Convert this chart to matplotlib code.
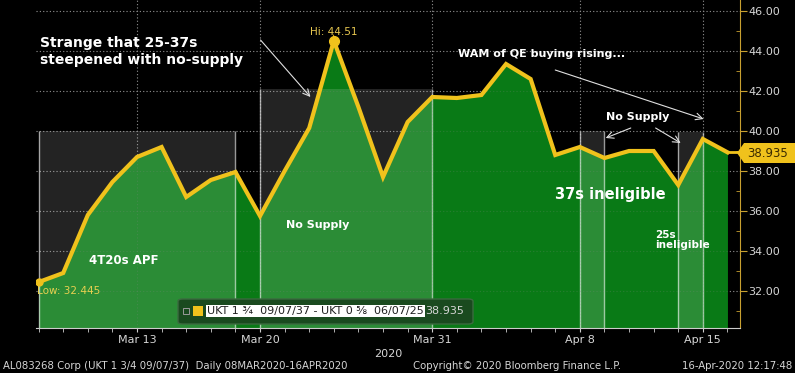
import numpy as np
import pandas as pd
import matplotlib
matplotlib.use("Agg")
import matplotlib.pyplot as plt
from matplotlib.patches import Rectangle, Polygon, FancyBboxPatch

# UKT 1 3/4 09/07/37 - UKT 0 5/8 06/07/25, daily, bp
dates = pd.bdate_range("2020-03-09", "2020-04-16")
spread = [32.445, 32.9, 35.8, 37.45, 38.7, 39.2, 36.7, 37.55, 37.95, 35.75,
          38.0, 40.15, 44.51, 41.2, 37.7, 40.45, 41.7, 41.65, 41.8, 43.35,
          42.6, 38.8, 39.2, 38.65, 39.0, 39.0, 37.3, 39.6, 38.935]
tick_dates = ["2020-03-13", "2020-03-20", "2020-03-31", "2020-04-08", "2020-04-15"]
tick_labels = ["Mar 13", "Mar 20", "Mar 31", "Apr 8", "Apr 15"]
# shaded periods: start, end, top of box
spans = [("2020-03-09", "2020-03-19", 40.0),
         ("2020-03-20", "2020-03-31", 42.1),
         ("2020-04-08", "2020-04-09", 40.0),
         ("2020-04-14", "2020-04-15", 39.95)]
yticks = [32, 34, 36, 38, 40, 42, 44, 46]

GREEN = "#097a16"
GOLD = "#f0c21c"
TXT = "#d6d6d6"

x = np.arange(len(dates))
pos = {d.strftime("%Y-%m-%d"): i for i, d in enumerate(dates)}
y0 = 30.15

fig = plt.figure(figsize=(7.95, 3.73), dpi=100, facecolor="black")
ax = fig.add_axes([36/795, 1-328/373, 704/795, 328/373])
ax.set_facecolor("black")
ax.set_xlim(-0.106, 28.51)
ax.set_ylim(y0, 46.55)

# grid (full under the fill, faint over it)
for z, al in [(1, 1.0), (4, 0.25)]:
    for v in yticks:
        ax.axhline(v, color="#8a8a8a", lw=0.8, ls=(0, (1, 2)), alpha=al, zorder=z)
    for d in tick_dates:
        ax.axvline(pos[d], color="#8a8a8a", lw=0.8, ls=(0, (1, 2)), alpha=al, zorder=z)

ax.fill_between(x, spread, y0, color=GREEN, lw=0, zorder=2)

for a, b, top in spans:
    i, j = pos[a], pos[b]
    ax.add_patch(Rectangle((i, y0), j - i, top - y0, facecolor="white",
                           alpha=0.14, lw=0, zorder=3))
    ax.vlines([i, j], y0, top, color="white", alpha=0.6, lw=1, zorder=3)

ax.plot(x, spread, color=GOLD, lw=3, solid_joinstyle="miter", zorder=5)
ax.plot([x[-1], 28.75], [spread[-1], spread[-1]], color=GOLD, lw=2,
        clip_on=False, zorder=5)
imax = int(np.argmax(spread))
imin = int(np.argmin(spread))
ax.plot(x[imax], spread[imax], "o", color=GOLD, ms=7, zorder=6)
ax.plot(x[imin], spread[imin], "o", color=GOLD, ms=5, zorder=6)
ax.text(x[imax], 44.95, "Hi: %.2f" % spread[imax], color="#e8c850",
        fontsize=7.5, ha="center", va="center", zorder=7)
ax.text(-0.05, 32.0, "Low: %.3f" % spread[imin], color="#e8d050",
        fontsize=7.5, ha="left", va="center", zorder=7)

# axes styling
for s in ["top", "left"]:
    ax.spines[s].set_visible(False)
ax.spines["bottom"].set_color("#cccccc")
ax.spines["right"].set_color("#c8a030")
ax.yaxis.tick_right()
ax.set_yticks(yticks)
ax.set_yticklabels(["%.2f" % v for v in yticks])
ax.set_yticks(np.arange(31, 47, 2), minor=True)
ax.tick_params(axis="y", which="major", colors="#c8a030", labelcolor=TXT,
               length=5, direction="out", labelsize=8, pad=1)
ax.tick_params(axis="y", which="minor", colors="#c8a030", length=3, direction="in")
ax.set_xticks(x, minor=True)
ax.set_xticks([pos[d] for d in tick_dates])
ax.set_xticklabels(tick_labels)
ax.tick_params(axis="x", which="both", colors="#cccccc", labelcolor=TXT,
               length=3, direction="out", labelsize=8, pad=2)
ax.set_xlabel("2020", color=TXT, fontsize=8, labelpad=3)

# annotations
bold = dict(color="white", fontweight="bold", family="DejaVu Sans", zorder=8)
ax.text(0.05, 44.75, "Strange that 25-37s\nsteepened with no-supply",
        fontsize=10, va="top", ha="left", linespacing=1.25, **bold)
ax.text(2.05, 33.5, "4T20s APF", fontsize=8.5, va="center", **bold)
ax.text(10.05, 35.3, "No Supply", fontsize=8, va="center", **bold)
ax.text(17.05, 43.85, "WAM of QE buying rising...", fontsize=8, va="center", **bold)
ax.text(23.05, 40.7, "No Supply", fontsize=8, va="center", **bold)
ax.text(21.0, 36.85, "37s ineligible", fontsize=10.5, va="center", **bold)
ax.text(25.05, 34.55, "25s\nineligible", fontsize=7.5, va="center",
        linespacing=1.0, **bold)

arw = dict(arrowstyle="->", color="#e0e0e0", lw=0.8, shrinkA=0, shrinkB=0,
           mutation_scale=12)
ax.annotate("", xy=(11.05, 41.7), xytext=(9.02, 44.55), arrowprops=arw, zorder=8)
ax.annotate("", xy=(27.03, 40.6), xytext=(21.0, 43.05), arrowprops=arw, zorder=8)
ax.annotate("", xy=(23.05, 39.65), xytext=(24.07, 40.15), arrowprops=arw, zorder=8)
ax.annotate("", xy=(26.1, 39.4), xytext=(25.08, 40.15), arrowprops=arw, zorder=8)

# legend box
fig.patches.append(FancyBboxPatch((178/795, 1-324/373), 295/795, 25/373,
                                  boxstyle="round,pad=0,rounding_size=0.006",
                                  transform=fig.transFigure, facecolor="#1a4a1f",
                                  edgecolor="#3b6a3f", lw=1, zorder=9))
fig.patches.append(Rectangle((183/795, 1-314/373), 6/795, 6/373,
                             transform=fig.transFigure, facecolor="none",
                             edgecolor="#9a9a9a", lw=0.7, zorder=10))
fig.patches.append(Rectangle((193/795, 1-316/373), 10/795, 10/373,
                             transform=fig.transFigure, facecolor=GOLD,
                             lw=0, zorder=10))
fig.text(207/795, 1-311/373, "UKT 1 \u00be  09/07/37 - UKT 0 \u215d  06/07/25",
         color="#202020", fontsize=8, va="center", ha="left", zorder=11,
         bbox=dict(facecolor="white", edgecolor="none", pad=0.6))
fig.text(425/795, 1-311/373, "%.3f" % spread[-1], color=TXT, fontsize=8,
         va="center", ha="left", zorder=11)

# last value tag
fig.patches.append(Polygon([(737/795, 1-153/373), (744/795, 1-143/373),
                            (795/795, 1-143/373), (795/795, 1-163/373),
                            (744/795, 1-163/373)], closed=True,
                           transform=fig.transFigure, facecolor=GOLD,
                           edgecolor="none", zorder=10))
fig.text(768/795, 1-153/373, "%.3f" % spread[-1], color="#3a2a00", fontsize=8.5,
         ha="center", va="center", zorder=11)

# footer
fig.text(3/795, 1-366/373, "AL083268 Corp (UKT 1 3/4 09/07/37)  Daily 08MAR2020-16APR2020",
         color=TXT, fontsize=7.3, va="center", ha="left")
fig.text(413/795, 1-366/373, "Copyright\u00a9 2020 Bloomberg Finance L.P.",
         color=TXT, fontsize=7.3, va="center", ha="left")
fig.text(792/795, 1-366/373, "16-Apr-2020 12:17:48",
         color=TXT, fontsize=7.3, va="center", ha="right")

fig.savefig("out.png", dpi=100, facecolor="black")
